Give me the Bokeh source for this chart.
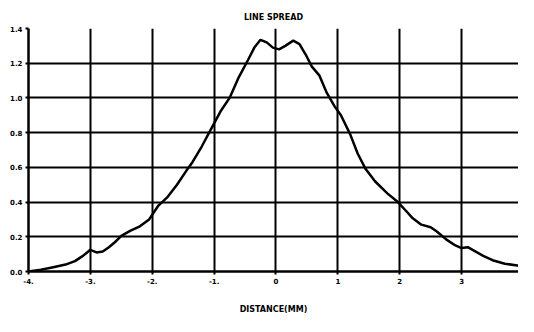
from bokeh.plotting import figure
from bokeh.embed import file_html
from bokeh.resources import INLINE
from bokeh.models import FixedTicker

# data (distance in mm, line spread)
distance = [-4.0, -3.8, -3.6, -3.4, -3.25, -3.12, -3.0, -2.9, -2.8, -2.7, -2.6, -2.5,
            -2.35, -2.2, -2.05, -1.9, -1.75, -1.6, -1.45, -1.35, -1.2, -1.05, -0.9,
            -0.75, -0.6, -0.45, -0.35, -0.25, -0.15, -0.05, 0.05, 0.15, 0.28, 0.38,
            0.48, 0.58, 0.7, 0.82, 0.95, 1.05, 1.2, 1.32, 1.45, 1.6, 1.8, 1.97, 2.1,
            2.2, 2.35, 2.5, 2.6, 2.75, 2.9, 3.0, 3.1, 3.2, 3.35, 3.5, 3.7, 3.9, 4.0]
spread = [0.0, 0.01, 0.025, 0.04, 0.06, 0.09, 0.125, 0.11, 0.115, 0.14, 0.17, 0.205,
          0.235, 0.26, 0.30, 0.38, 0.43, 0.50, 0.58, 0.63, 0.72, 0.82, 0.92,
          1.0, 1.12, 1.22, 1.29, 1.335, 1.32, 1.29, 1.28, 1.30, 1.33, 1.31,
          1.25, 1.18, 1.13, 1.03, 0.95, 0.90, 0.79, 0.68, 0.59, 0.52, 0.45, 0.40, 0.35,
          0.31, 0.27, 0.255, 0.23, 0.185, 0.15, 0.135, 0.14, 0.12, 0.09, 0.065, 0.045, 0.035, 0.03]

x_ticks = [-4, -3, -2, -1, 0, 1, 2, 3]
x_tick_labels = ["-4.", "-3.", "-2.", "-1.", "0", "1", "2", "3"]
y_ticks = [0.0, 0.2, 0.4, 0.6, 0.8, 1.0, 1.2, 1.4]
y_tick_labels = ["0.0", "0.2", "0.4", "0.6", "0.8", "1.0", "1.2", "1.4"]

p = figure(width=518, height=316, x_range=(-4, 3.92), y_range=(0, 1.4),
           output_backend="svg", toolbar_location=None,
           min_border_left=28, min_border_right=0, min_border_top=28, min_border_bottom=41)

p.title.text = "LINE SPREAD"
p.title.align = "center"
p.title.text_font = "DejaVu Sans"
p.title.text_font_size = "8px"
p.title.text_font_style = "bold"
p.title.text_color = "black"
p.title.offset = -12
p.title.standoff = 14

p.line(distance, spread, line_color="black", line_width=2.5)

p.xaxis.ticker = FixedTicker(ticks=x_ticks)
p.yaxis.ticker = FixedTicker(ticks=y_ticks)
p.xaxis.major_label_overrides = {t: l for t, l in zip(x_ticks, x_tick_labels)}
p.yaxis.major_label_overrides = {t: l for t, l in zip(y_ticks, y_tick_labels)}

for ax in (p.xaxis, p.yaxis):
    ax.axis_line_color = "black"
    ax.axis_line_width = 2.5
    ax.major_tick_line_color = "black"
    ax.major_tick_line_width = 2
    ax.major_tick_out = 3
    ax.major_tick_in = 0
    ax.minor_tick_line_color = None
    ax.major_label_text_font = "DejaVu Sans"
    ax.major_label_text_font_size = "7px"
    ax.major_label_text_font_style = "bold"
    ax.major_label_text_color = "black"
    ax.major_label_standoff = 3

p.xaxis.axis_label = "DISTANCE(MM)"
p.xaxis.axis_label_text_font = "DejaVu Sans"
p.xaxis.axis_label_text_font_size = "8px"
p.xaxis.axis_label_text_font_style = "bold"
p.xaxis.axis_label_text_color = "black"
p.xaxis.axis_label_standoff = 18

p.grid.grid_line_color = "black"
p.grid.grid_line_width = 2
p.grid.grid_line_alpha = 1.0
p.outline_line_color = None

file = open("out.html", "w")
file.write(file_html(p, INLINE))
file.close()
